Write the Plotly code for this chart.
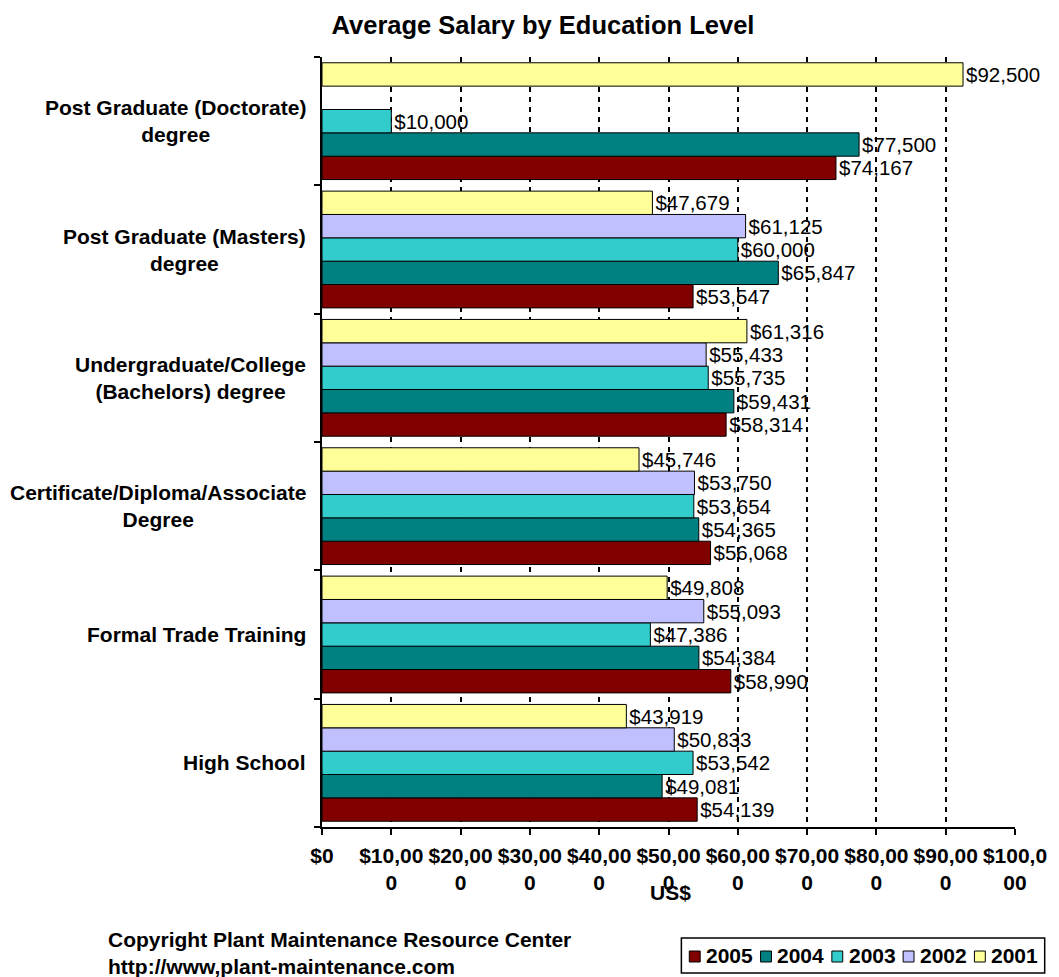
import plotly.graph_objects as go

# Education levels, top to bottom as they appear on the chart
categories = [
    "Post Graduate (Doctorate)<br>degree",
    "Post Graduate (Masters)<br>degree",
    "Undergraduate/College<br>(Bachelors) degree",
    "Certificate/Diploma/Associate<br>Degree",
    "Formal Trade Training",
    "High School",
]

# Average salary (US$) per year, same order as categories
salary_2005 = [74167, 53547, 58314, 56068, 58990, 54139]
salary_2004 = [77500, 65847, 59431, 54365, 54384, 49081]
salary_2003 = [10000, 60000, 55735, 53654, 47386, 53542]
salary_2002 = [None, 61125, 55433, 53750, 55093, 50833]
salary_2001 = [92500, 47679, 61316, 45746, 49808, 43919]

series_names = ["2005", "2004", "2003", "2002", "2001"]
series_values = [salary_2005, salary_2004, salary_2003, salary_2002, salary_2001]
series_colors = ["#800000", "#008080", "#33CCCC", "#C0C0FF", "#FFFF99"]

tick_values = [0, 10000, 20000, 30000, 40000, 50000, 60000, 70000, 80000, 90000, 100000]
tick_labels = ["$0", "$10,00<br>0", "$20,00<br>0", "$30,00<br>0", "$40,00<br>0",
               "$50,00<br>0", "$60,00<br>0", "$70,00<br>0", "$80,00<br>0",
               "$90,00<br>0", "$100,0<br>00"]

FONT = "Liberation Sans, Arial, sans-serif"
W, H = 1059, 977
PL, PR, PT, PB = 322, 1022, 57, 827  # plot area in pixels


def px_x(px):
    return (px - PL) / (PR - PL)


def px_y(py):
    return (PB - py) / (PB - PT)


fig = go.Figure()
for name, values, color in zip(series_names, series_values, series_colors):
    fig.add_trace(go.Bar(
        name=name,
        y=categories,
        x=values,
        orientation="h",
        marker=dict(color=color, line=dict(color="black", width=1)),
        texttemplate="$%{x:,.0f}",
        textposition="outside",
        textfont=dict(family=FONT, size=20.5, color="black"),
        constraintext="none",
        cliponaxis=False,
        showlegend=False,
    ))

annotations = []
# Category labels left of the axis, lines centred on each other
for cat in categories:
    annotations.append(dict(
        x=0, xref="x", y=cat, yref="y", xanchor="right", yanchor="middle",
        xshift=-14, text=cat, showarrow=False, align="center",
        font=dict(family=FONT, size=21, color="black", weight="bold"),
    ))

# Axis title
annotations.append(dict(
    x=px_x(674), xref="paper", y=px_y(893), yref="paper", text="US$",
    showarrow=False, xanchor="center", yanchor="middle",
    font=dict(family=FONT, size=21, color="black", weight="bold"),
))

# Copyright note
annotations.append(dict(
    x=px_x(104), xref="paper", y=px_y(953), yref="paper",
    text="Copyright Plant Maintenance Resource Center<br>http://www,plant-maintenance.com",
    showarrow=False, xanchor="left", yanchor="middle", align="left",
    font=dict(family=FONT, size=21, color="black", weight="bold"),
))

# Legend box with swatches
shapes = [dict(type="rect", xref="paper", yref="paper",
               x0=px_x(685), x1=px_x(1052), y0=px_y(973), y1=px_y(938),
               line=dict(color="black", width=1.5), fillcolor="white")]
item_x = 693
for name, color in zip(series_names, series_colors):
    shapes.append(dict(type="rect", xref="paper", yref="paper",
                       x0=px_x(item_x), x1=px_x(item_x + 11),
                       y0=px_y(962), y1=px_y(951),
                       line=dict(color="black", width=1), fillcolor=color))
    annotations.append(dict(
        x=px_x(item_x + 15), xref="paper", y=px_y(956), yref="paper",
        text=name, showarrow=False, xanchor="left", yanchor="middle",
        font=dict(family=FONT, size=21, color="black", weight="bold"),
    ))
    item_x += 72

fig.update_layout(
    width=W, height=H, autosize=False,
    margin=dict(l=PL, r=W - PR, t=PT, b=H - PB),
    paper_bgcolor="white", plot_bgcolor="white",
    barmode="group", bargap=0.09, bargroupgap=0,
    title=dict(text="Average Salary by Education Level",
               x=543 / W, xref="container", xanchor="center",
               y=1 - 25 / H, yref="container", yanchor="middle",
               font=dict(family=FONT, size=25.5, color="black", weight="bold")),
    xaxis=dict(
        range=[0, 100000], tickvals=tick_values, ticktext=tick_labels,
        ticks="outside", ticklen=6, tickwidth=1.5, tickcolor="black",
        ticklabelstandoff=3,
        showline=True, linecolor="black", linewidth=1.5,
        showgrid=True, gridcolor="black", gridwidth=2, griddash="5px,5px",
        zeroline=False,
        tickfont=dict(family=FONT, size=21, color="black", weight="bold"),
    ),
    yaxis=dict(
        type="category", categoryorder="array", categoryarray=categories[::-1],
        showticklabels=False, tickson="boundaries",
        ticks="outside", ticklen=6, tickwidth=1.5, tickcolor="black",
        showline=True, linecolor="black", linewidth=1.5,
        showgrid=False, zeroline=False,
    ),
    shapes=shapes,
    annotations=annotations,
)

fig.write_html("out.html")
